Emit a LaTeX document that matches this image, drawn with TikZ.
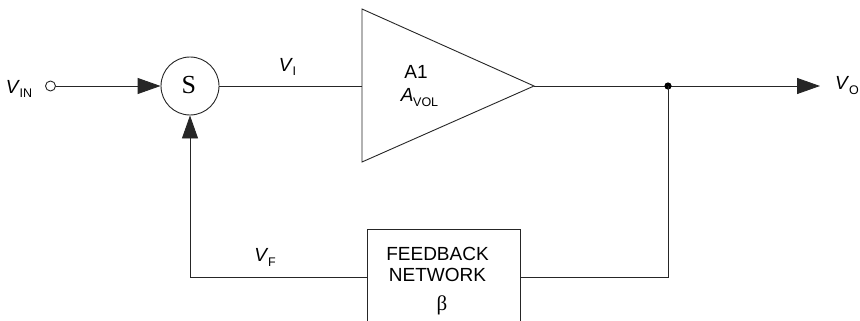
\documentclass[tikz,border=0pt]{standalone}
\usepackage{fontspec}
\setmainfont{Liberation Sans}
\newfontfamily\serifa{Liberation Serif}
\usetikzlibrary{arrows.meta}
\newcommand{\sigl}[2][V]{\textit{#1}\kern-0.3pt\raisebox{-4.6pt}{\fontsize{12.5}{12.5}\selectfont #2}}
\tikzset{
  wire/.style={line width=0.9pt, draw=black!85},
  tri/.style={-{Triangle[length=23pt,width=16pt]}},
  lbl/.style={font=\fontsize{19}{21.6}\selectfont, inner sep=0pt},
}
\begin{document}
\begin{tikzpicture}[x=1pt,y=-1pt]
\clip (0,0) rectangle (860,321);
\fill[white] (0,0) rectangle (860,321);
% input terminal
\node[circle, draw, wire, minimum size=10pt, inner sep=0pt] (in) at (50.5,86) {};
\node[lbl] (vin) at (19,89) {\sigl{IN}};
% summing junction
\node[circle, draw, wire, minimum size=58pt, inner sep=0pt] (S) at (190,86) {};
\node[inner sep=0pt, font=\serifa\fontsize{26}{26}\selectfont] (Stxt) at (188.8,85.5) {S};
\draw[wire, tri] (in) -- (S.west);
% amplifier
\coordinate (ampin) at (362,86);
\coordinate (ampout) at (534,86);
\draw[wire, line join=miter] (362,9) -- (ampout) -- (362,162) -- cycle;
\node[lbl] (a1) at (416,71.7) {A1};
\node[lbl] (avol) at (419.5,97.5) {\sigl[A]{VOL}};
\draw[wire] (S.east) -- (ampin);
\node[lbl] (vi) at (287.5,67) {\sigl{I}};
% output
\coordinate (J) at (668,86);
\coordinate (vout) at (820,86);
\draw[wire] (ampout) -- (J);
\draw[wire, tri] (J) -- (vout);
\fill (J) circle (3.6pt);
\node[lbl, anchor=west] (vo) at (835,85.5) {\sigl{O}};
% feedback network
\node[draw, wire, minimum width=153pt, minimum height=96pt, inner sep=0pt] (fb) at (443.5,277) {};
\node[lbl, align=center] (fbtxt) at (437.5,264.5) {FEEDBACK\\NETWORK};
\node[inner sep=0pt, font=\serifa\fontsize{21}{21}\selectfont] (beta) at (442,305.8) {β};
\draw[wire] (J) |- (fb.east);
\draw[wire, tri] (fb.west) -| (S.south);
\node[lbl] (vf) at (265,257.3) {\sigl{F}};
\end{tikzpicture}
\end{document}
